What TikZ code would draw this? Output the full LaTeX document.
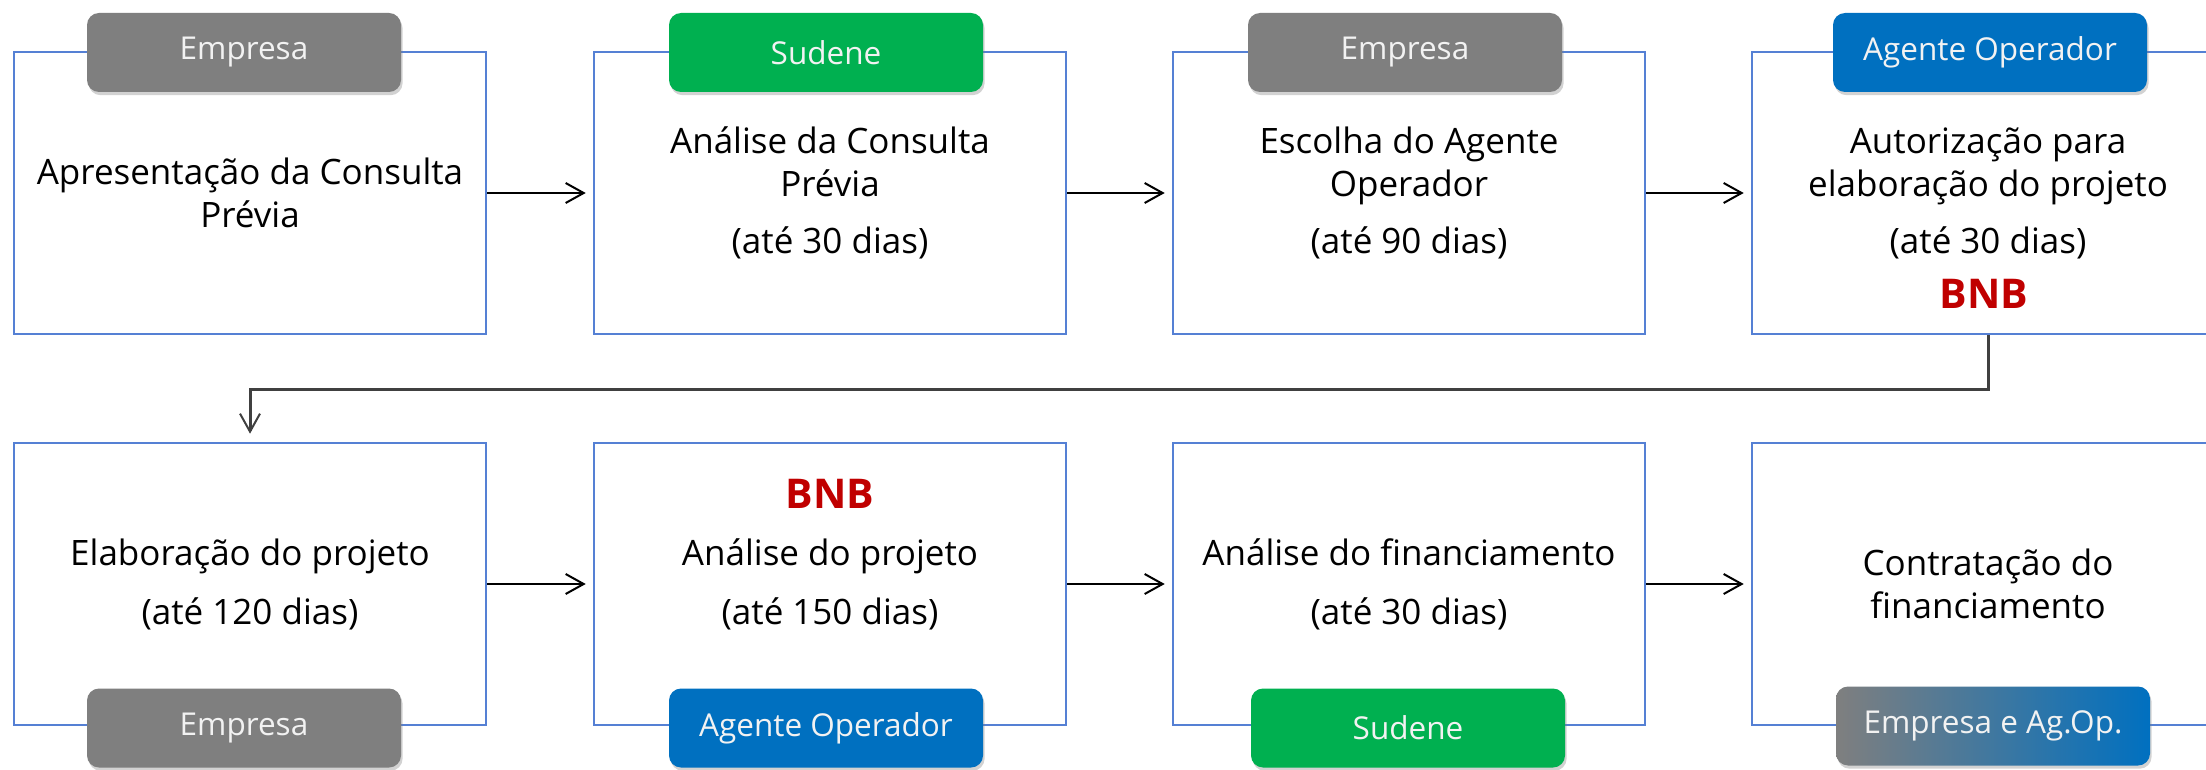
\documentclass[tikz,border=0pt]{standalone}
\usepackage{fontspec}
\setmainfont{Open Sans}
\usetikzlibrary{arrows.meta,shadows}
\definecolor{cgray}{HTML}{7F7F7F}
\definecolor{cgreen}{HTML}{00B050}
\definecolor{cblue}{HTML}{0070C0}
\definecolor{cred}{HTML}{C00000}
\definecolor{cborder}{HTML}{5580D4}
\definecolor{ctagtext}{HTML}{F2F2F2}
\definecolor{clink}{HTML}{404040}
\begin{document}
\begin{tikzpicture}[x=0.5pt,y=-0.5pt,
  stepbox/.style={draw=cborder, line width=1.3pt, fill=white, minimum width=236pt, minimum height=141pt, inner sep=0pt, align=center, font=\fontsize{17.5}{21.5}\selectfont},
  tag/.style={rounded corners=6pt, minimum width=157pt, minimum height=39.5pt, inner sep=0pt, text=ctagtext, font=\fontsize{15.75}{18}\selectfont, drop shadow={shadow xshift=0.8pt, shadow yshift=-1.6pt, opacity=0.35}},
  graytag/.style={tag, fill=cgray},
  greentag/.style={tag, fill=cgreen},
  bluetag/.style={tag, fill=cblue},
  mixtag/.style={tag, left color=cgray, middle color=cgray!80!cblue, right color=cblue},
  flow/.style={-{Straight Barb[length=9pt,width=10pt]}, line width=1pt, shorten >=3.5pt},
  uplink/.style={draw=clink, line width=1.5pt, -{Straight Barb[length=9pt,width=10pt,line width=1pt]}, shorten >=4pt},
  bnb/.style={text=cred, font=\fontsize{20.5}{24}\selectfont\bfseries, anchor=base, inner sep=0pt}]
\useasboundingbox (0,0) rectangle (2206,770);
\clip (0,0) rectangle (2206,770);
\fill[white] (0,0) rectangle (2206,770);

% row 1
\node[stepbox] (b1) at (250,193) {Apresentação da Consulta\\Prévia};
\node[stepbox] (b2) at (830,193) {Análise da Consulta\\Prévia\\[7pt](até 30 dias)};
\node[stepbox] (b3) at (1409,193) {Escolha do Agente\\Operador\\[7pt](até 90 dias)};
\node[stepbox] (b4) at (1988,193) {Autorização para\\elaboração do projeto\\[7pt](até 30 dias)};
\node[bnb] (bnb1) at (1984,308) {BNB};

% row 2
\node[stepbox] (b5) at (250,584) {Elaboração do projeto\\[8pt](até 120 dias)};
\node[stepbox] (b6) at (830,584) {Análise do projeto\\[8pt](até 150 dias)};
\node[bnb] (bnb2) at (830,508) {BNB};
\node[stepbox] (b7) at (1409,584) {Análise do financiamento\\[8pt](até 30 dias)};
\node[stepbox] (b8) at (1988,584) {Contratação do\\financiamento};

% tags
\node[graytag] (t1) at (244,52.5) {Empresa};
\node[greentag] (t2) at (826,52.5) {Sudene};
\node[graytag] (t3) at (1405,52.5) {Empresa};
\node[bluetag] (t4) at (1990,52.5) {Agente Operador};
\node[graytag] (t5) at (244,728) {Empresa};
\node[bluetag] (t6) at (826,728) {Agente Operador};
\node[greentag] (t7) at (1408,728) {Sudene};
\node[mixtag] (t8) at (1993,726) {Empresa e Ag.Op.};

% connectors
\draw[flow] (b1) -- (b2);
\draw[flow] (b2) -- (b3);
\draw[flow] (b3) -- (b4);
\draw[flow] (b5) -- (b6);
\draw[flow] (b6) -- (b7);
\draw[flow] (b7) -- (b8);
\coordinate (turn) at (1988,389);
\draw[uplink] (b4.south) -- (turn) -| (b5.north);
\end{tikzpicture}
\end{document}
